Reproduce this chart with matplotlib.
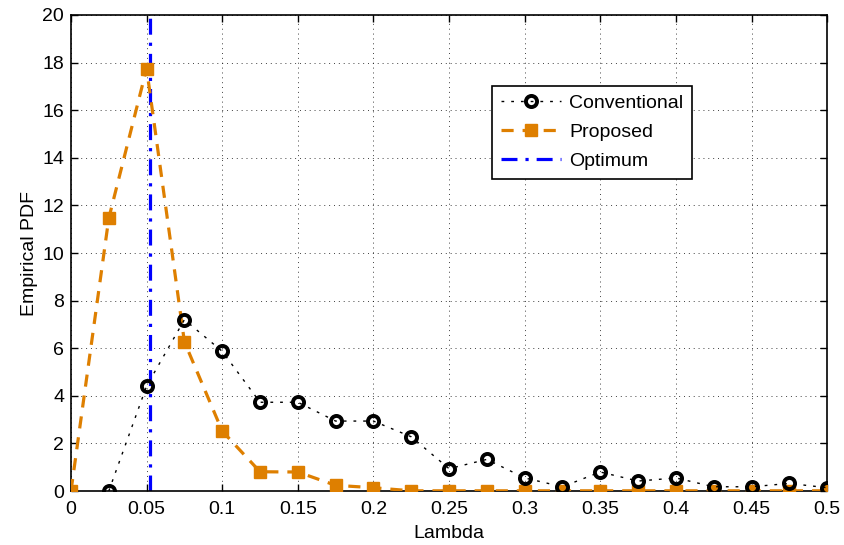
import matplotlib
matplotlib.use("Agg")
import matplotlib.pyplot as plt
import numpy as np

# empirical pdf of the selected lambda, two estimators plus the optimum
lam = [0, 0.025, 0.05, 0.075, 0.1, 0.125, 0.15, 0.175, 0.2, 0.225, 0.25,
       0.275, 0.3, 0.325, 0.35, 0.375, 0.4, 0.425, 0.45, 0.475, 0.5]
pdf_conventional = [0, 0, 4.41, 7.2, 5.87, 3.73, 3.73, 2.94, 2.94, 2.28, 0.94,
                    1.33, 0.55, 0.18, 0.80, 0.42, 0.55, 0.18, 0.18, 0.32, 0.14]
pdf_proposed = [0, 11.46, 17.75, 6.27, 2.52, 0.81, 0.80, 0.24, 0.14, 0.01, 0.01,
                0.01, 0.01, 0.01, 0.01, 0.01, 0.01, 0.01, 0.01, 0.01, 0.01]
lam_opt = 0.052
opt_span = [0, 20]

ORANGE = "#DE7F00"

plt.rcParams['font.family'] = ['Liberation Sans', 'DejaVu Sans']
plt.rcParams['font.size'] = 14

fig = plt.figure(figsize=(8.44, 5.45), dpi=100)
ax = fig.add_axes([0.0841, 0.099, 0.8959, 0.8735])

ax.plot(lam[1:], pdf_conventional[1:], color="black", linestyle=(0, (2, 5)),
        linewidth=1.0, marker="o", markersize=8, markerfacecolor="none",
        markeredgewidth=2.8, label="Conventional", zorder=4)
ax.plot(lam, pdf_proposed, color=ORANGE, linestyle=(0, (3.8, 2.8)),
        linewidth=2.3, marker="s", markersize=8.5, markerfacecolor=ORANGE,
        markeredgecolor=ORANGE, label="Proposed", zorder=3)
ax.plot([lam_opt, lam_opt], opt_span, color="blue", linestyle=(0, (5, 2.5, 1, 2.5)),
        linewidth=2.3, label="Optimum", zorder=2)

ax.set_xlim(0, 0.5)
ax.set_ylim(0, 20)
ax.set_xticks(np.arange(0, 0.501, 0.05))
ax.set_xticklabels(["0", "0.05", "0.1", "0.15", "0.2", "0.25", "0.3", "0.35",
                    "0.4", "0.45", "0.5"])
ax.set_yticks(np.arange(0, 21, 2))
ax.tick_params(direction="in", top=True, right=True, length=5, width=1,
               labelsize=14, pad=5)
ax.tick_params(axis="x", pad=7)
ax.grid(True, color="black", linestyle=(0, (1, 4)), linewidth=0.7, alpha=0.75)
for s in ax.spines.values():
    s.set_linewidth(1.2)

ax.set_xlabel("Lambda", fontsize=14, labelpad=5)
ax.set_ylabel("Empirical PDF", fontsize=14, labelpad=3)

leg = ax.legend(loc="upper left", bbox_to_anchor=(0.557, 0.851), borderaxespad=0,
                fancybox=False, framealpha=1, edgecolor="black", fontsize=14,
                handlelength=3.1, handletextpad=0.4, labelspacing=0.58,
                borderpad=0.45)
leg.get_frame().set_linewidth(1.2)

fig.savefig("out.png", dpi=100)
